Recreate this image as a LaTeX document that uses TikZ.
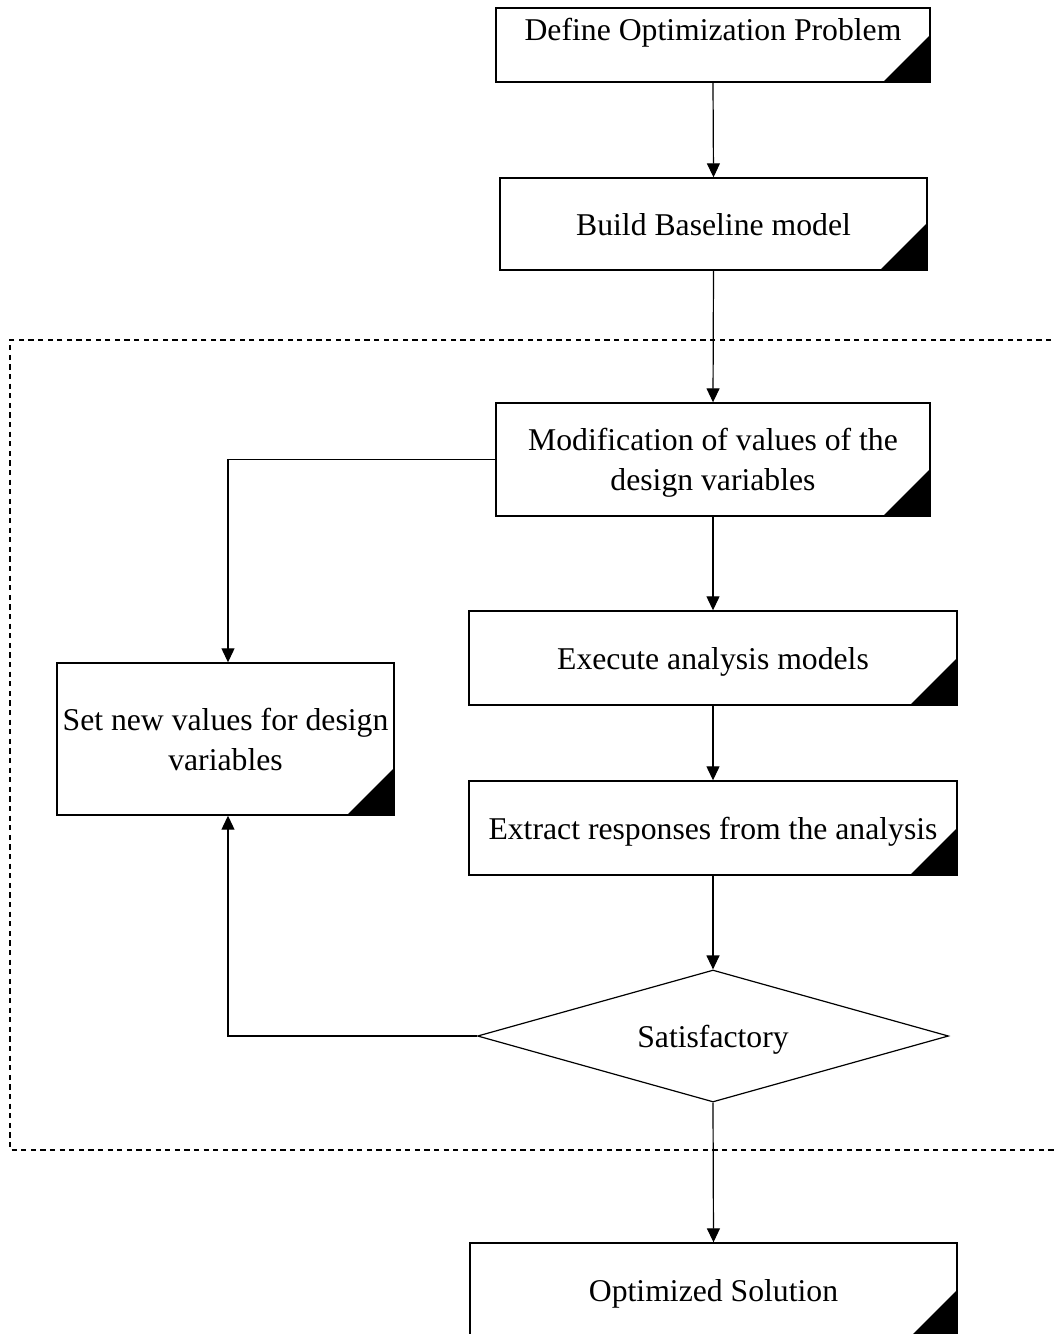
\documentclass[tikz,border=0pt]{standalone}
\usepackage{fontspec}
\setmainfont{Liberation Serif}
\usetikzlibrary{arrows.meta,shapes.geometric}
\begin{document}
\begin{tikzpicture}[x=0.5pt,y=-0.5pt,
  every node/.style={font=\fontsize{15.85}{20}\selectfont},
  stepbox/.style={draw, line width=0.7pt, inner sep=0pt, align=center, text depth=0pt,
    path picture={\fill (path picture bounding box.south east) -- ++(-23.5pt,0) -- ++(23.5pt,23.5pt) -- cycle;}},
  label text/.style={inner sep=0pt, align=center},
  decision/.style={draw, diamond, shape aspect=3.6, line width=0.6pt, inner sep=0pt,
    text depth=0pt, minimum width=235.5pt, minimum height=66pt},
  arr/.style={draw, line width=0.6pt, -{Triangle[length=7pt,width=6.5pt]}},
  frame/.style={draw, line width=0.9pt, dash pattern=on 2.6pt off 2.2pt}
]
\useasboundingbox (0,0) rectangle (1055,1334);
\clip (0,0) rectangle (1055,1334);

% loop boundary
\draw[frame] (1080,340) -- (10,340) -- (10,1150) -- (1080,1150);

% process steps
\node[stepbox, minimum width=217pt, minimum height=37pt] (b1) at (713,45) {};
\node[label text] (t1) at (713,33) {Define Optimization Problem};
\node[stepbox, minimum width=213.5pt, minimum height=46pt] (b2) at (713.5,224) {Build Baseline model};
\node[stepbox, minimum width=217pt, minimum height=56.5pt] (b3) at (713,459.5) {Modification of values of the\\design variables};
\node[stepbox, minimum width=244pt, minimum height=47pt] (b4) at (713,658) {Execute analysis models};
\node[stepbox, minimum width=168.5pt, minimum height=76pt] (b5) at (225.5,739) {Set new values for design\\variables};
\node[stepbox, minimum width=244pt, minimum height=47pt] (b6) at (713,828) {Extract responses from the analysis};
\node[decision] (d) at (713,1036) {Satisfactory};
\node[stepbox, minimum width=243.5pt, minimum height=47pt] (b8) at (713.5,1290) {Optimized Solution};

% connectors
\draw[arr] (b1.south) -- (b2.north);
\draw[arr] (b2.south) -- (b3.north);
\draw[arr] (b3.south) -- (b4.north);
\draw[arr] (b4.south) -- (b6.north);
\draw[arr] (b6.south) -- (d.north);
\draw[arr] (d.south) -- (b8.north);
\draw[arr] (b3.west) -| ([xshift=1.25pt]b5.north);
\draw[arr] (d.west) -| ([xshift=1.25pt]b5.south);
\end{tikzpicture}
\end{document}
